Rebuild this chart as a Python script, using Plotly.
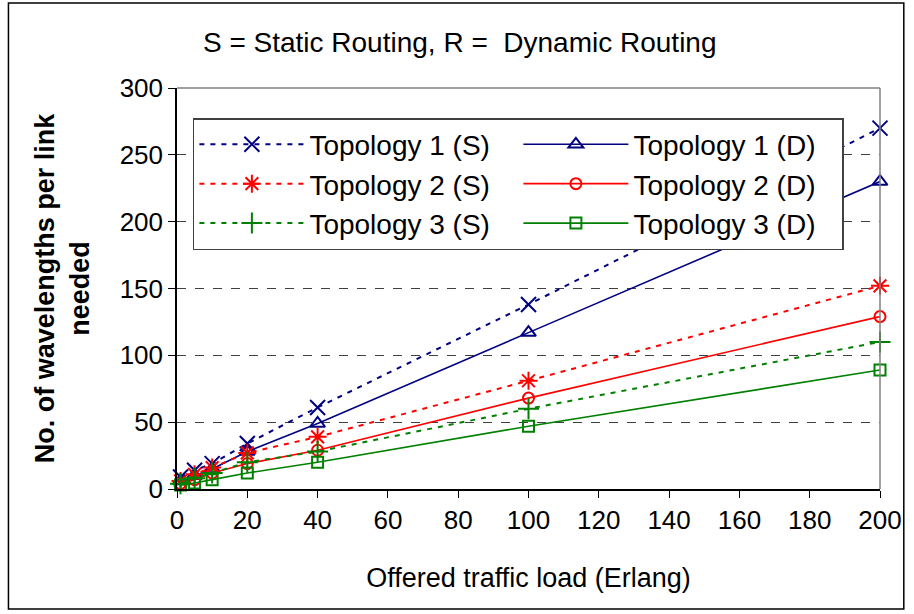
import plotly.graph_objects as go

load = [1, 5, 10, 20, 40, 100, 200]
topo1_static = [9, 14, 19, 34, 61, 138, 270]
topo1_dynamic = [6, 10, 15, 28, 49, 117, 230]
topo2_static = [6, 11, 16, 27, 39, 81, 152]
topo2_dynamic = [4, 7, 12, 19, 29, 68, 129]
topo3_static = [4, 8, 12, 20, 28, 60, 110]
topo3_dynamic = [3, 4.5, 7, 12, 20, 47, 89]

x_ticks = list(range(0, 201, 20))
y_ticks = list(range(0, 301, 50))

NAVY = "#000080"
RED = "#FF0000"
GREEN = "#008000"
FONT = "Liberation Sans, Arial, sans-serif"

series = [
    ("Topology 1 (S)", topo1_static, NAVY, "dot", "x-thin-open", 15),
    ("Topology 1 (D)", topo1_dynamic, NAVY, "solid", "triangle-up-open", 13),
    ("Topology 2 (S)", topo2_static, RED, "dot", "asterisk-open", 15),
    ("Topology 2 (D)", topo2_dynamic, RED, "solid", "circle-open", 11),
    ("Topology 3 (S)", topo3_static, GREEN, "dot", "cross-thin-open", 15),
    ("Topology 3 (D)", topo3_dynamic, GREEN, "solid", "square-open", 11),
]

fig = go.Figure()
for name, vals, color, dash, sym, size in series:
    fig.add_trace(go.Scatter(
        x=load, y=vals, name=name, mode="lines+markers",
        line=dict(color=color, width=2 if dash == "dot" else 1.6,
                  dash="5px,6px" if dash == "dot" else "solid"),
        marker=dict(symbol=sym, size=size, color=color,
                    line=dict(color=color, width=2)),
        cliponaxis=False,
    ))

fig.update_layout(
    width=914, height=614,
    margin=dict(l=177, r=28, t=88, b=125),
    paper_bgcolor="white", plot_bgcolor="white",
    font=dict(family=FONT, color="black", size=26),
    title=dict(text="S = Static Routing, R =  Dynamic Routing",
               x=0.503, xanchor="center", y=1 - 42 / 614, yanchor="middle",
               font=dict(size=28, family=FONT)),
    showlegend=True,
    legend=dict(
        orientation="h", x=0.0226, xanchor="left", y=0.925, yanchor="top",
        entrywidth=204, entrywidthmode="pixels", itemwidth=105,
        bgcolor="white", bordercolor="#404040", borderwidth=1.5,
        font=dict(size=28, family=FONT),
        traceorder="normal",
    ),
    xaxis=dict(
        range=[0, 200], tickvals=x_ticks, ticks="outside", ticklen=7,
        tickcolor="black", showline=True, linecolor="black", linewidth=1.5,
        showgrid=False, zeroline=False, tickfont=dict(size=26),
        title=dict(text="Offered traffic load (Erlang)", font=dict(size=27), standoff=34),
    ),
    yaxis=dict(
        range=[0, 300], tickvals=y_ticks, ticks="outside", ticklen=7,
        tickcolor="black", showline=True, linecolor="black", linewidth=1.5,
        showgrid=True, gridcolor="#404040", griddash="dash", gridwidth=1,
        zeroline=False, tickfont=dict(size=26),
        title=dict(text="<b>No. of wavelengths per link<br>needed</b>", font=dict(size=27), standoff=22),
    ),
    shapes=[
        dict(type="line", xref="paper", yref="paper", x0=0, x1=1, y0=1, y1=1,
             line=dict(color="#808080", width=1.5)),
        dict(type="line", xref="paper", yref="paper", x0=1, x1=1, y0=0, y1=1,
             line=dict(color="#808080", width=1.5)),
        dict(type="rect", xref="paper", yref="paper",
             x0=(7 - 177) / 709, x1=(910 - 177) / 709,
             y0=(489 - 609) / 401, y1=(489 - 3) / 401,
             line=dict(color="black", width=1.5), layer="below"),
    ],
)

fig.write_html("out.html")
